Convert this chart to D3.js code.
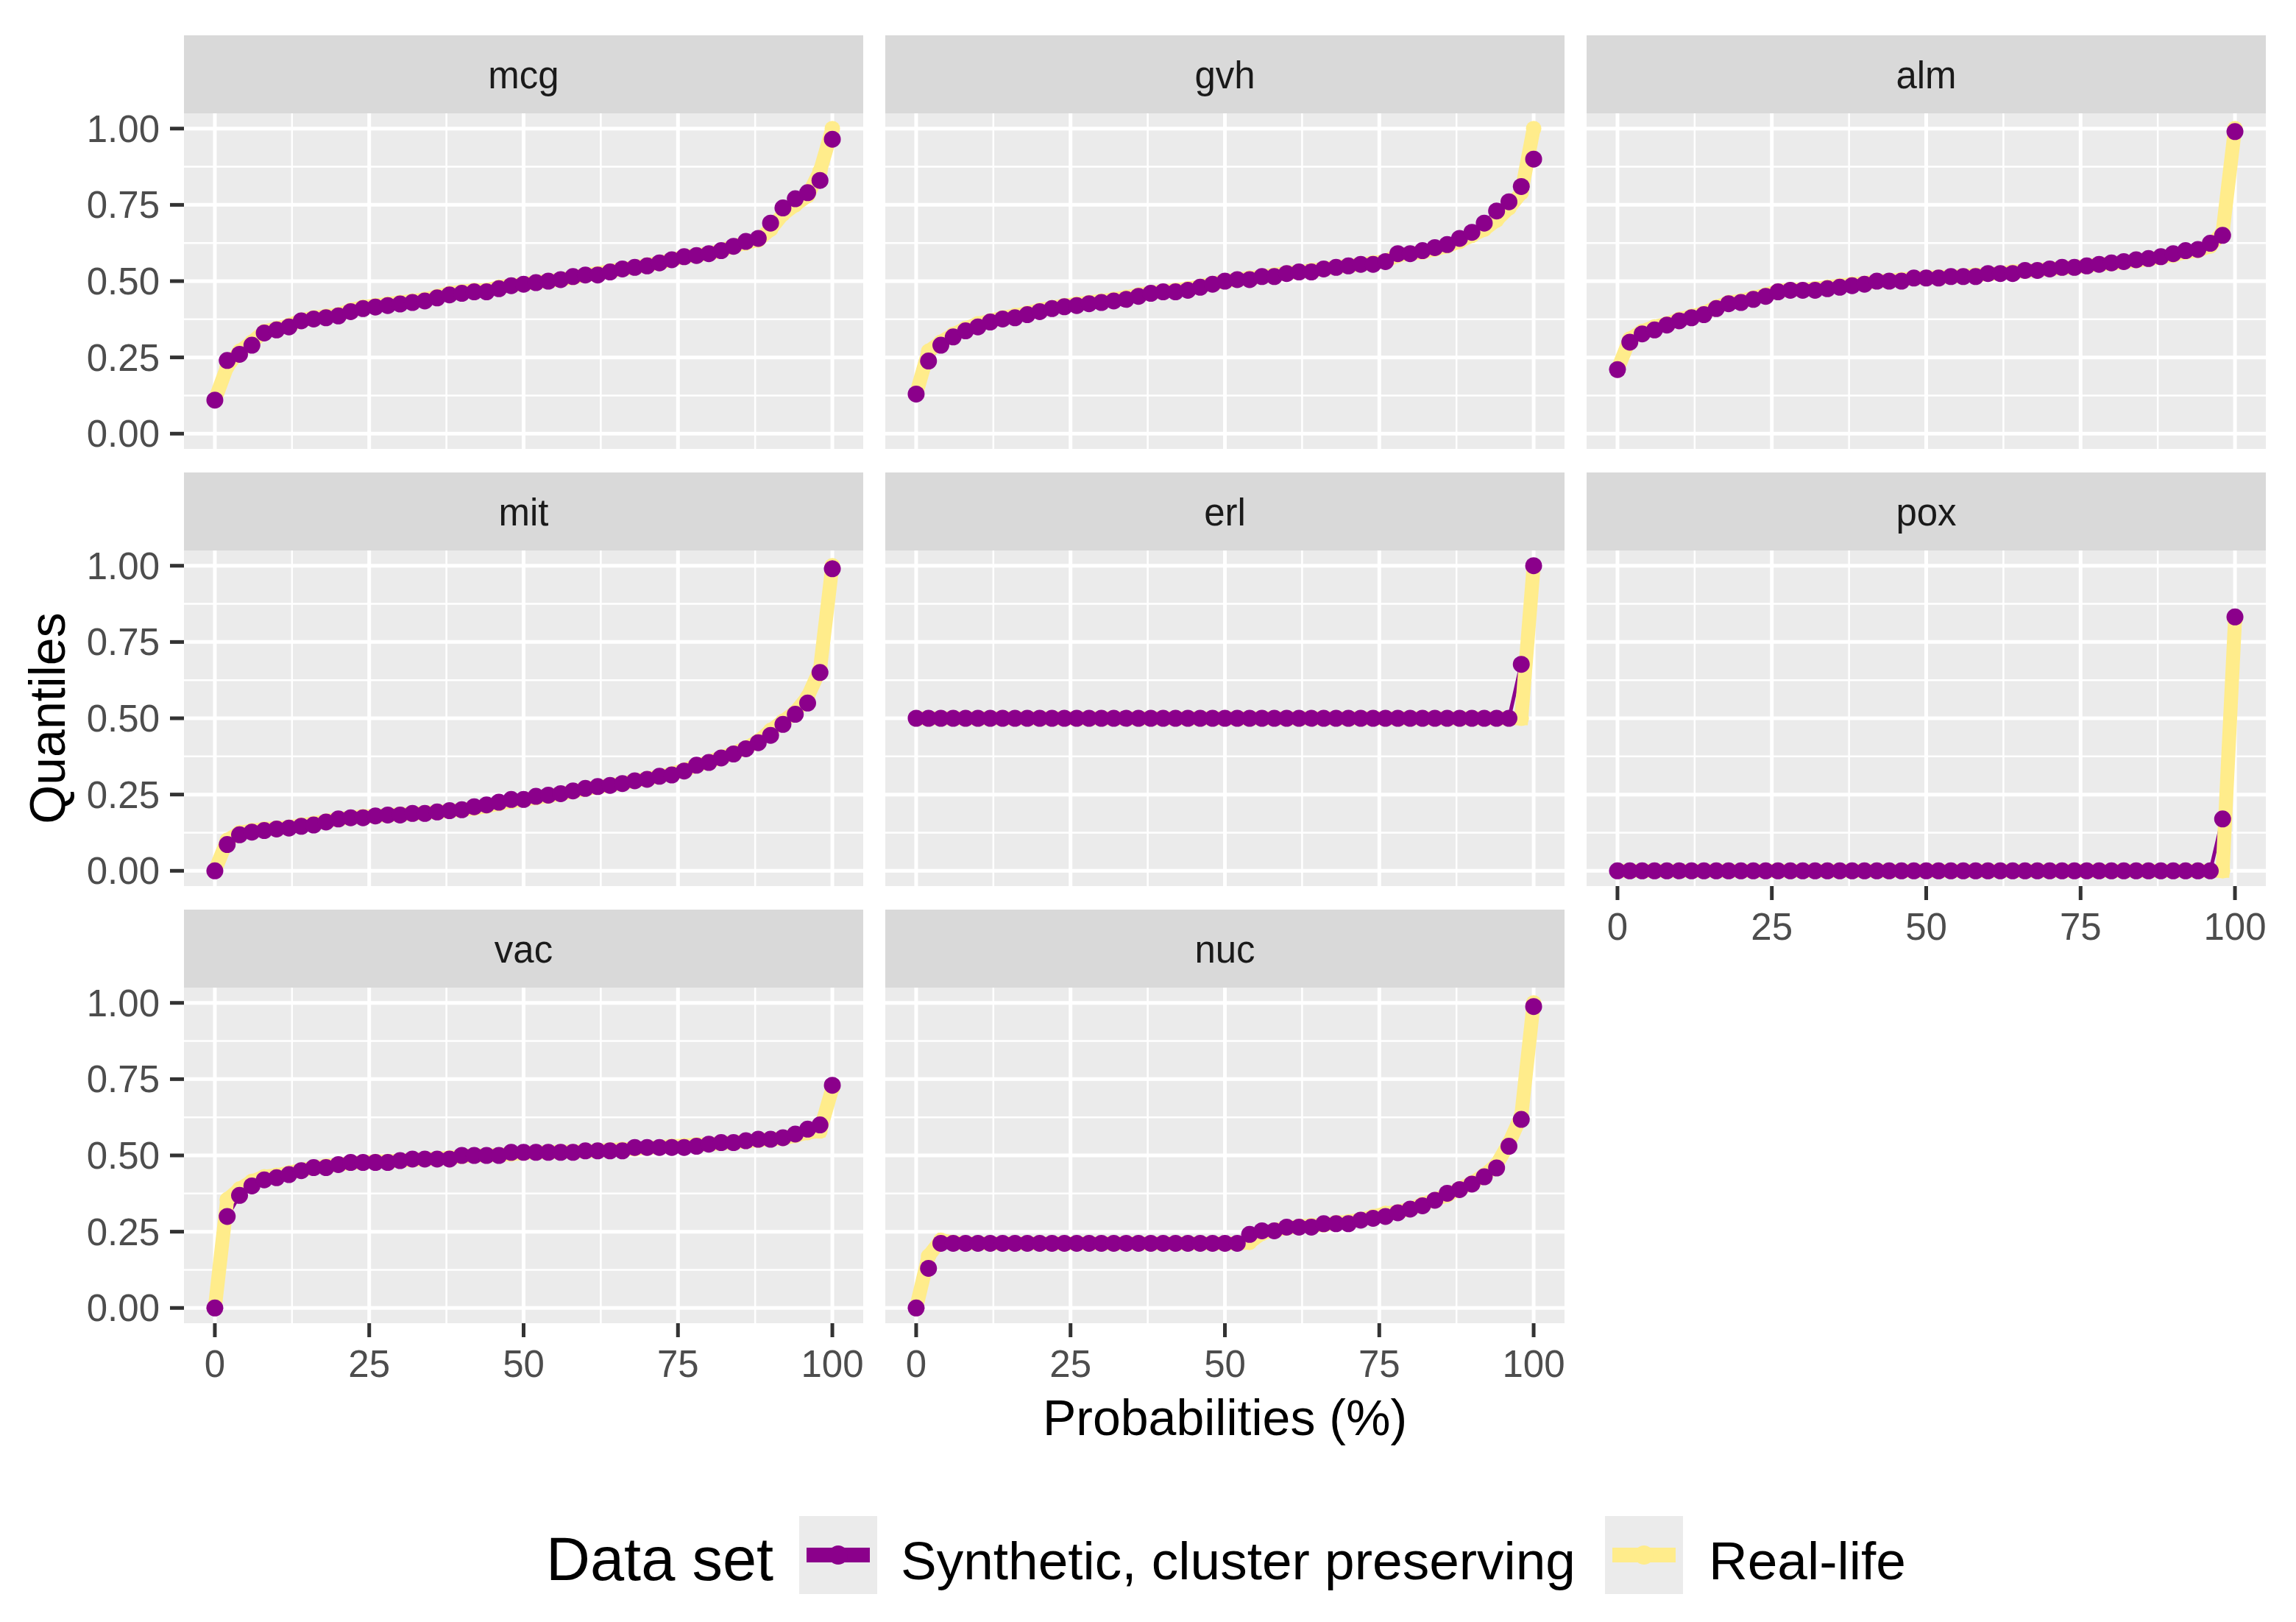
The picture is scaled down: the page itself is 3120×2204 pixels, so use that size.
<!DOCTYPE html>
<html>
<head>
<meta charset="utf-8">
<script src="https://cdn.jsdelivr.net/npm/d3@7"></script>
<style>
  html, body { margin: 0; padding: 0; background: #fff; }
  svg { display: block; font-family: "Liberation Sans", Arial, sans-serif; }
</style>
</head>
<body>
<svg id="chart" width="3120" height="2204"></svg>
<script>
// ---- data ----
var FACETS = ["mcg", "gvh", "alm", "mit", "erl", "pox", "vac", "nuc"];
var PROBS = [0, 2, 4, 6, 8, 10, 12, 14, 16, 18, 20, 22, 24, 26, 28, 30, 32, 34, 36, 38,
             40, 42, 44, 46, 48, 50, 52, 54, 56, 58, 60, 62, 64, 66, 68, 70, 72, 74, 76, 78,
             80, 82, 84, 86, 88, 90, 92, 94, 96, 98, 100];
var X_TICKS = [0, 25, 50, 75, 100];
var X_MINOR = [12.5, 37.5, 62.5, 87.5];
var Y_TICKS = [0, 0.25, 0.5, 0.75, 1];
var Y_LABELS = ["0.00", "0.25", "0.50", "0.75", "1.00"];
var Y_MINOR = [0.125, 0.375, 0.625, 0.875];
var SERIES = ["Synthetic, cluster preserving", "Real-life"];

var MCG_SYN = [0.11, 0.24, 0.26, 0.29, 0.33, 0.34, 0.35, 0.37, 0.376, 0.38,
  0.386, 0.40, 0.41, 0.415, 0.42, 0.425, 0.43, 0.435, 0.445, 0.455,
  0.46, 0.465, 0.465, 0.475, 0.485, 0.49, 0.495, 0.50, 0.505, 0.515,
  0.52, 0.52, 0.53, 0.54, 0.545, 0.55, 0.56, 0.57, 0.58, 0.584,
  0.59, 0.60, 0.614, 0.63, 0.64, 0.69, 0.74, 0.77, 0.79, 0.83, 0.965];
var MCG_REAL = [0.11, 0.22, 0.27, 0.30, 0.335, 0.345, 0.355, 0.372, 0.38, 0.385,
  0.39, 0.405, 0.415, 0.42, 0.425, 0.43, 0.435, 0.44, 0.45, 0.46,
  0.465, 0.47, 0.47, 0.48, 0.487, 0.49, 0.497, 0.50, 0.505, 0.512,
  0.52, 0.525, 0.533, 0.54, 0.545, 0.553, 0.56, 0.57, 0.58, 0.585,
  0.59, 0.60, 0.615, 0.625, 0.635, 0.67, 0.72, 0.75, 0.78, 0.86, 1.0];

var GVH_SYN = [0.13, 0.238, 0.29, 0.317, 0.337, 0.35, 0.366, 0.376, 0.38, 0.39,
  0.40, 0.41, 0.416, 0.42, 0.426, 0.43, 0.435, 0.44, 0.45, 0.46,
  0.465, 0.465, 0.47, 0.48, 0.49, 0.50, 0.505, 0.505, 0.515, 0.515,
  0.525, 0.53, 0.53, 0.54, 0.545, 0.55, 0.555, 0.555, 0.564, 0.59,
  0.59, 0.60, 0.61, 0.62, 0.64, 0.66, 0.69, 0.73, 0.76, 0.81, 0.90];
var GVH_REAL = [0.13, 0.27, 0.30, 0.325, 0.345, 0.36, 0.37, 0.38, 0.387, 0.395,
  0.405, 0.413, 0.42, 0.425, 0.43, 0.435, 0.44, 0.447, 0.455, 0.462,
  0.467, 0.47, 0.475, 0.483, 0.492, 0.50, 0.505, 0.51, 0.515, 0.52,
  0.527, 0.53, 0.535, 0.54, 0.547, 0.55, 0.555, 0.56, 0.565, 0.585,
  0.59, 0.595, 0.605, 0.615, 0.63, 0.65, 0.67, 0.70, 0.74, 0.79, 1.0];

var ALM_SYN = [0.21, 0.30, 0.327, 0.34, 0.356, 0.37, 0.38, 0.39, 0.41, 0.426,
  0.43, 0.44, 0.45, 0.465, 0.47, 0.47, 0.47, 0.475, 0.48, 0.485,
  0.49, 0.50, 0.50, 0.50, 0.51, 0.51, 0.51, 0.515, 0.515, 0.515,
  0.525, 0.525, 0.525, 0.535, 0.535, 0.54, 0.545, 0.545, 0.55, 0.555,
  0.56, 0.564, 0.57, 0.574, 0.58, 0.59, 0.60, 0.604, 0.624, 0.65, 0.99];
var ALM_REAL = [0.21, 0.31, 0.335, 0.35, 0.36, 0.375, 0.385, 0.395, 0.415, 0.43,
  0.435, 0.445, 0.455, 0.468, 0.472, 0.472, 0.475, 0.48, 0.485, 0.49,
  0.493, 0.50, 0.502, 0.505, 0.51, 0.512, 0.513, 0.515, 0.517, 0.52,
  0.523, 0.526, 0.53, 0.533, 0.536, 0.54, 0.543, 0.546, 0.55, 0.555,
  0.558, 0.562, 0.567, 0.572, 0.578, 0.585, 0.595, 0.60, 0.615, 0.66, 1.0];

var MIT_SYN = [0.0, 0.086, 0.118, 0.127, 0.132, 0.137, 0.14, 0.146, 0.15, 0.16,
  0.17, 0.174, 0.174, 0.18, 0.183, 0.183, 0.188, 0.188, 0.193, 0.197,
  0.20, 0.21, 0.216, 0.225, 0.234, 0.234, 0.244, 0.248, 0.253, 0.262,
  0.27, 0.276, 0.28, 0.286, 0.295, 0.30, 0.31, 0.314, 0.327, 0.346,
  0.355, 0.37, 0.383, 0.40, 0.42, 0.444, 0.48, 0.513, 0.55, 0.65, 0.99];
var MIT_REAL = [0.0, 0.10, 0.125, 0.132, 0.137, 0.14, 0.143, 0.15, 0.155, 0.163,
  0.17, 0.175, 0.178, 0.18, 0.183, 0.185, 0.187, 0.19, 0.193, 0.196,
  0.20, 0.205, 0.212, 0.22, 0.228, 0.232, 0.24, 0.245, 0.252, 0.26,
  0.268, 0.275, 0.28, 0.287, 0.295, 0.302, 0.31, 0.318, 0.33, 0.345,
  0.357, 0.372, 0.386, 0.403, 0.425, 0.46, 0.49, 0.52, 0.57, 0.66, 1.0];

var ERL_SYN = [0.5, 0.5, 0.5, 0.5, 0.5, 0.5, 0.5, 0.5, 0.5, 0.5,
  0.5, 0.5, 0.5, 0.5, 0.5, 0.5, 0.5, 0.5, 0.5, 0.5,
  0.5, 0.5, 0.5, 0.5, 0.5, 0.5, 0.5, 0.5, 0.5, 0.5,
  0.5, 0.5, 0.5, 0.5, 0.5, 0.5, 0.5, 0.5, 0.5, 0.5,
  0.5, 0.5, 0.5, 0.5, 0.5, 0.5, 0.5, 0.5, 0.5, 0.677, 1.0];
var ERL_REAL = [0.5, 0.5, 0.5, 0.5, 0.5, 0.5, 0.5, 0.5, 0.5, 0.5,
  0.5, 0.5, 0.5, 0.5, 0.5, 0.5, 0.5, 0.5, 0.5, 0.5,
  0.5, 0.5, 0.5, 0.5, 0.5, 0.5, 0.5, 0.5, 0.5, 0.5,
  0.5, 0.5, 0.5, 0.5, 0.5, 0.5, 0.5, 0.5, 0.5, 0.5,
  0.5, 0.5, 0.5, 0.5, 0.5, 0.5, 0.5, 0.5, 0.5, 0.5, 1.0];

var POX_SYN = [0, 0, 0, 0, 0, 0, 0, 0, 0, 0,
  0, 0, 0, 0, 0, 0, 0, 0, 0, 0,
  0, 0, 0, 0, 0, 0, 0, 0, 0, 0,
  0, 0, 0, 0, 0, 0, 0, 0, 0, 0,
  0, 0, 0, 0, 0, 0, 0, 0, 0, 0.17, 0.832];
var POX_REAL = [0, 0, 0, 0, 0, 0, 0, 0, 0, 0,
  0, 0, 0, 0, 0, 0, 0, 0, 0, 0,
  0, 0, 0, 0, 0, 0, 0, 0, 0, 0,
  0, 0, 0, 0, 0, 0, 0, 0, 0, 0,
  0, 0, 0, 0, 0, 0, 0, 0, 0, 0, 0.82];

var VAC_SYN = [0.0, 0.30, 0.369, 0.40, 0.42, 0.427, 0.437, 0.45, 0.46, 0.46,
  0.47, 0.477, 0.477, 0.477, 0.477, 0.483, 0.488, 0.488, 0.488, 0.488,
  0.50, 0.50, 0.50, 0.50, 0.51, 0.51, 0.51, 0.51, 0.51, 0.51,
  0.515, 0.515, 0.515, 0.515, 0.526, 0.526, 0.526, 0.526, 0.526, 0.53,
  0.537, 0.542, 0.542, 0.548, 0.553, 0.553, 0.558, 0.57, 0.586, 0.60, 0.73];
var VAC_REAL = [0.0, 0.355, 0.39, 0.415, 0.43, 0.435, 0.443, 0.452, 0.46, 0.465,
  0.47, 0.475, 0.478, 0.48, 0.48, 0.483, 0.486, 0.488, 0.49, 0.492,
  0.497, 0.50, 0.50, 0.502, 0.505, 0.508, 0.51, 0.51, 0.512, 0.512,
  0.514, 0.515, 0.518, 0.52, 0.522, 0.525, 0.527, 0.53, 0.532, 0.535,
  0.537, 0.54, 0.543, 0.546, 0.55, 0.553, 0.556, 0.565, 0.575, 0.58, 0.72];

var NUC_SYN = [0.0, 0.13,
  0.212, 0.212, 0.212, 0.212, 0.212, 0.212, 0.212, 0.212, 0.212, 0.212,
  0.212, 0.212, 0.212, 0.212, 0.212, 0.212, 0.212, 0.212, 0.212, 0.212,
  0.212, 0.212, 0.212, 0.212, 0.212,
  0.241, 0.253, 0.253, 0.265, 0.265, 0.265, 0.276, 0.276, 0.276, 0.288,
  0.294, 0.30, 0.312, 0.324, 0.335, 0.353, 0.376, 0.388, 0.406, 0.43,
  0.459, 0.53, 0.618, 0.988];
var NUC_REAL = [0.0, 0.17,
  0.222, 0.215, 0.212, 0.212, 0.212, 0.212, 0.212, 0.212, 0.212, 0.212,
  0.212, 0.212, 0.212, 0.212, 0.212, 0.212, 0.212, 0.212, 0.212, 0.212,
  0.212, 0.212, 0.212, 0.212, 0.212,
  0.215, 0.245, 0.255, 0.262, 0.268, 0.27, 0.272, 0.28, 0.282, 0.29,
  0.30, 0.31, 0.315, 0.325, 0.34, 0.355, 0.37, 0.39, 0.41, 0.435,
  0.47, 0.54, 0.63, 1.0];

var SYN = { mcg: MCG_SYN, gvh: GVH_SYN, alm: ALM_SYN, mit: MIT_SYN, erl: ERL_SYN, pox: POX_SYN, vac: VAC_SYN, nuc: NUC_SYN };
var REAL = { mcg: MCG_REAL, gvh: GVH_REAL, alm: ALM_REAL, mit: MIT_REAL, erl: ERL_REAL, pox: POX_REAL, vac: VAC_REAL, nuc: NUC_REAL };

// ---- layout ----
var PURPLE = "#8B008B", YELLOW = "#FFEC8B";
var NCOL = 3;
var COL_X = [250, 1203, 2156];
var ROW_Y = [48, 642, 1236];          // strip tops
var PW = 923, PH = 456, SH = 106;
var AXIS_FS = 51, TICK_LEN = 19;

var svg = d3.select("#chart");
var x = d3.scaleLinear().domain([-5, 105]).range([0, PW]);
var y = d3.scaleLinear().domain([-0.05, 1.05]).range([PH, 0]);
var line = d3.line().x(function (d) { return x(d[0]); }).y(function (d) { return y(d[1]); });

svg.append("defs").append("clipPath").attr("id", "pclip")
  .append("rect").attr("width", PW).attr("height", PH);

FACETS.forEach(function (name, i) {
  var col = i % NCOL, row = Math.floor(i / NCOL);
  var g = svg.append("g").attr("transform", "translate(" + COL_X[col] + "," + (ROW_Y[row] + SH) + ")");

  // strip
  var strip = svg.append("g").attr("transform", "translate(" + COL_X[col] + "," + ROW_Y[row] + ")");
  strip.append("rect").attr("width", PW).attr("height", SH).attr("fill", "#D9D9D9");
  strip.append("text").attr("x", PW / 2).attr("y", SH / 2 + 19).attr("text-anchor", "middle")
    .attr("font-size", AXIS_FS).attr("fill", "#1A1A1A").text(name);

  // panel + grid
  g.append("rect").attr("width", PW).attr("height", PH).attr("fill", "#EBEBEB");
  g.selectAll(".ymin").data(Y_MINOR).enter().append("line")
    .attr("x1", 0).attr("x2", PW).attr("y1", y).attr("y2", y)
    .attr("stroke", "#fff").attr("stroke-width", 2.5);
  g.selectAll(".xmin").data(X_MINOR).enter().append("line")
    .attr("y1", 0).attr("y2", PH).attr("x1", x).attr("x2", x)
    .attr("stroke", "#fff").attr("stroke-width", 2.5);
  g.selectAll(".ymaj").data(Y_TICKS).enter().append("line")
    .attr("x1", 0).attr("x2", PW).attr("y1", y).attr("y2", y)
    .attr("stroke", "#fff").attr("stroke-width", 5);
  g.selectAll(".xmaj").data(X_TICKS).enter().append("line")
    .attr("y1", 0).attr("y2", PH).attr("x1", x).attr("x2", x)
    .attr("stroke", "#fff").attr("stroke-width", 5);

  // series: purple line under the thick yellow one, purple points on top
  var syn = PROBS.map(function (p, k) { return [p, SYN[name][k]]; });
  var real = PROBS.map(function (p, k) { return [p, REAL[name][k]]; });
  var marks = g.append("g").attr("clip-path", "url(#pclip)");
  marks.append("path").attr("d", line(syn)).attr("fill", "none").attr("stroke", PURPLE).attr("stroke-width", 5);
  marks.append("path").attr("d", line(real)).attr("fill", "none").attr("stroke", YELLOW).attr("stroke-width", 19);
  marks.selectAll(".rp").data(real).enter().append("circle")
    .attr("cx", function (d) { return x(d[0]); }).attr("cy", function (d) { return y(d[1]); })
    .attr("r", 10.5).attr("fill", YELLOW);
  marks.selectAll(".sp").data(syn).enter().append("circle")
    .attr("cx", function (d) { return x(d[0]); }).attr("cy", function (d) { return y(d[1]); })
    .attr("r", 11.5).attr("fill", PURPLE);

  // y axis on first column
  if (col === 0) {
    Y_TICKS.forEach(function (t, k) {
      g.append("line").attr("x1", -TICK_LEN).attr("x2", 0).attr("y1", y(t)).attr("y2", y(t))
        .attr("stroke", "#333333").attr("stroke-width", 5);
      g.append("text").attr("x", -33).attr("y", y(t) + 18).attr("text-anchor", "end")
        .attr("font-size", AXIS_FS).attr("fill", "#4D4D4D").text(Y_LABELS[k]);
    });
  }
  // x axis where no panel sits below
  if (i + NCOL >= FACETS.length) {
    X_TICKS.forEach(function (t) {
      g.append("line").attr("x1", x(t)).attr("x2", x(t)).attr("y1", PH).attr("y2", PH + TICK_LEN)
        .attr("stroke", "#333333").attr("stroke-width", 5);
      g.append("text").attr("x", x(t)).attr("y", PH + 73).attr("text-anchor", "middle")
        .attr("font-size", AXIS_FS).attr("fill", "#4D4D4D").text(t);
    });
  }
});

// axis titles (centred on the panel area, strips of the first row excluded)
var panelsMidX = (COL_X[0] + COL_X[2] + PW) / 2;
var panelsMidY = (ROW_Y[0] + SH + ROW_Y[2] + SH + PH) / 2;
svg.append("text").attr("x", panelsMidX).attr("y", 1950).attr("text-anchor", "middle")
  .attr("font-size", 68).attr("fill", "#000").text("Probabilities (%)");
svg.append("text").attr("transform", "translate(88," + panelsMidY + ") rotate(-90)")
  .attr("text-anchor", "middle").attr("font-size", 68).attr("fill", "#000").text("Quantiles");

// legend
var leg = svg.append("g");
leg.append("text").attr("x", 742).attr("y", 2147).attr("font-size", 83).attr("fill", "#000").text("Data set");
var KEY_X = [1086, 2181], TXT_X = [1224, 2322], KEY_COL = [PURPLE, YELLOW];
var KEY_Y = 2060, KEY_S = 106;
SERIES.forEach(function (s, k) {
  leg.append("rect").attr("x", KEY_X[k]).attr("y", KEY_Y).attr("width", KEY_S).attr("height", KEY_S).attr("fill", "#EBEBEB");
  leg.append("line").attr("x1", KEY_X[k] + 10).attr("x2", KEY_X[k] + KEY_S - 10)
    .attr("y1", KEY_Y + KEY_S / 2).attr("y2", KEY_Y + KEY_S / 2)
    .attr("stroke", KEY_COL[k]).attr("stroke-width", 20);
  leg.append("circle").attr("cx", KEY_X[k] + KEY_S / 2).attr("cy", KEY_Y + KEY_S / 2).attr("r", 13).attr("fill", KEY_COL[k]);
  leg.append("text").attr("x", TXT_X[k]).attr("y", 2146).attr("font-size", 73).attr("fill", "#000").text(s);
});
</script>
</body>
</html>
